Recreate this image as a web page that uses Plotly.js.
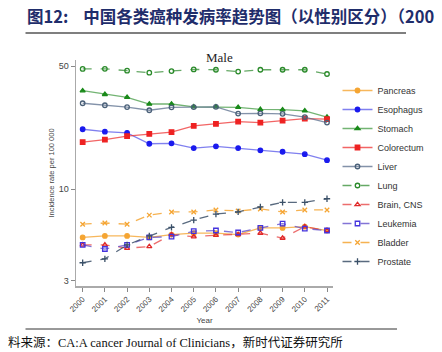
<!DOCTYPE html>
<html>
<head>
<meta charset="utf-8">
<script src="https://cdn.plot.ly/plotly-3.0.1.min.js"></script>
<style>html,body{margin:0;padding:0;background:#fff;}#chart{width:442px;height:352px;}</style>
</head>
<body>
<div id="chart"></div>
<script>
const years = [2000,2001,2002,2003,2004,2005,2006,2007,2008,2009,2010,2011];
const seriesNames = ["Pancreas","Esophagus","Stomach","Colorectum","Liver","Lung","Brain, CNS","Leukemia","Bladder","Prostate"];
const pancreas   = [5.3, 5.4, 5.4, 5.3, 5.5, 5.6, 5.6, 5.5, 6.0, 6.0, 6.1, 5.8];
const esophagus  = [21.9, 21.2, 20.9, 18.1, 18.2, 17.1, 17.5, 17.1, 16.6, 16.3, 15.8, 14.6];
const stomach    = [36.3, 34.6, 33.3, 30.5, 30.5, 29.4, 29.4, 29.2, 28.4, 28.3, 27.9, 25.7];
const colorectum = [18.5, 19.1, 20.0, 20.6, 21.1, 22.9, 23.5, 24.2, 23.9, 24.5, 25.2, 25.0];
const liver      = [30.8, 30.0, 29.3, 28.1, 29.2, 29.3, 29.4, 26.9, 27.0, 26.8, 25.7, 23.9];
const lung       = [48.3, 48.4, 47.2, 46.0, 47.0, 48.0, 47.8, 46.7, 47.8, 47.8, 47.8, 45.2];
const brainCNS   = [4.8, 4.8, 4.6, 4.7, 5.5, 5.35, 5.45, 5.5, 5.6, 5.25, 6.1, 5.8];
const leukemia   = [4.8, 4.55, 4.8, 5.3, 5.35, 5.75, 5.8, 5.65, 6.0, 6.35, 5.95, 5.8];
const bladder    = [6.3, 6.4, 6.3, 7.1, 7.4, 7.4, 7.6, 7.5, 7.7, 7.4, 7.6, 7.6];
const prostate   = [3.8, 4.0, 4.8, 5.4, 6.05, 6.65, 7.2, 7.4, 7.9, 8.4, 8.4, 8.8];
const yTickVals = [3, 10, 50];
const yTickText = ["3", "10", "50"];

const styles = [
  {c:"#f5a533", lc:"rgba(245,165,51,0.8)", dash:"solid", sym:"circle"},
  {c:"#1a1aee", lc:"rgba(60,60,230,0.65)", dash:"solid", sym:"circle"},
  {c:"#1a8a1a", lc:"rgba(40,140,40,0.65)", dash:"solid", sym:"triangle-up"},
  {c:"#ee2222", lc:"rgba(238,50,50,0.75)", dash:"solid", sym:"square"},
  {c:"#4a6078", lc:"rgba(90,110,140,0.75)", dash:"solid", sym:"circle-open"},
  {c:"#2a8a2a", lc:"rgba(50,140,50,0.75)", dash:"dash", sym:"circle-open"},
  {c:"#e02828", lc:"rgba(230,60,60,0.75)", dash:"dash", sym:"triangle-up-open"},
  {c:"#4433dd", lc:"rgba(90,70,200,0.75)", dash:"dash", sym:"square-open"},
  {c:"#f5a533", lc:"rgba(245,165,51,0.85)", dash:"dash", sym:"x-thin-open"},
  {c:"#3a5068", lc:"rgba(60,80,104,0.85)", dash:"dash", sym:"cross-thin-open"}
];
const data = [pancreas, esophagus, stomach, colorectum, liver, lung, brainCNS, leukemia, bladder, prostate];

const traces = data.map((vals, i) => ({
  type: "scatter",
  mode: "lines+markers",
  name: seriesNames[i],
  x: years,
  y: vals,
  line: {color: styles[i].lc, width: 1.3, dash: styles[i].dash},
  marker: {color: styles[i].c, symbol: styles[i].sym, size: 4.5, line: {color: styles[i].c, width: 1.3}}
}));

const px = (x) => (x - 76) / 285;
const py = (y) => (286 - y) / 226;

const layout = {
  width: 442, height: 352,
  margin: {l: 76, r: 81, t: 60, b: 66},
  paper_bgcolor: "#fff", plot_bgcolor: "#fff",
  showlegend: true,
  legend: {x: px(366), y: py(76), xanchor: "left", yanchor: "top",
    font: {family: "Liberation Sans, Arial, sans-serif", size: 9, color: "#333"},
    bgcolor: "rgba(0,0,0,0)", itemwidth: 30},
  xaxis: {
    type: "linear", range: [1999.70, 2011.27],
    tickvals: years, ticktext: years.map(String), tickangle: -45,
    showgrid: false, zeroline: false, showline: true, linecolor: "#aaa", linewidth: 1.5,
    ticks: "outside", ticklen: 4, tickcolor: "#888",
    tickfont: {family: "Liberation Sans, Arial, sans-serif", size: 8, color: "#444"},
    title: {text: "Year", font: {family: "Liberation Sans, Arial, sans-serif", size: 8, color: "#444"}, standoff: 4}
  },
  yaxis: {
    type: "log", range: [0.4473, 1.735],
    tickvals: yTickVals, ticktext: yTickText,
    showgrid: false, zeroline: false, showline: true, linecolor: "#aaa", linewidth: 1.5,
    ticks: "outside", ticklen: 4, tickcolor: "#888",
    tickfont: {family: "Liberation Sans, Arial, sans-serif", size: 9, color: "#444"},
    title: {text: "Incidence rate per 100 000", font: {family: "Liberation Sans, Arial, sans-serif", size: 7.5, color: "#444"}, standoff: 3}
  },
  annotations: [
    {xref: "paper", yref: "paper", x: px(235), y: py(57), xanchor: "center", yanchor: "middle",
     text: "Male", showarrow: false, font: {family: "Liberation Serif, Times New Roman, serif", size: 13, color: "#222"}},
    {xref: "paper", yref: "paper", x: px(19), y: py(16), xanchor: "left", yanchor: "middle",
     text: "<b>图12:&nbsp;&nbsp;&nbsp;&nbsp;中国各类癌种发病率趋势图（以性别区分）（200</b>", showarrow: false,
     font: {family: "Noto Sans CJK SC, sans-serif", size: 16.5, color: "#1f2d6b"}},
    {xref: "paper", yref: "paper", x: px(-2), y: py(342), xanchor: "left", yanchor: "middle",
     text: "料来源：CA:A cancer Journal of Clinicians，新时代证券研究所", showarrow: false,
     font: {family: "Liberation Serif, Noto Sans CJK SC, serif", size: 12.5, color: "#111"}}
  ],
  shapes: [
    {type: "line", xref: "paper", yref: "paper", x0: px(20), x1: px(442), y0: py(33), y1: py(33), line: {color: "#555", width: 1.5}},
    {type: "line", xref: "paper", yref: "paper", x0: px(20), x1: px(432), y0: py(329), y1: py(329), line: {color: "#333", width: 1}}
  ]
};

Plotly.newPlot("chart", traces, layout, {displayModeBar: false, staticPlot: true});
</script>
</body>
</html>
